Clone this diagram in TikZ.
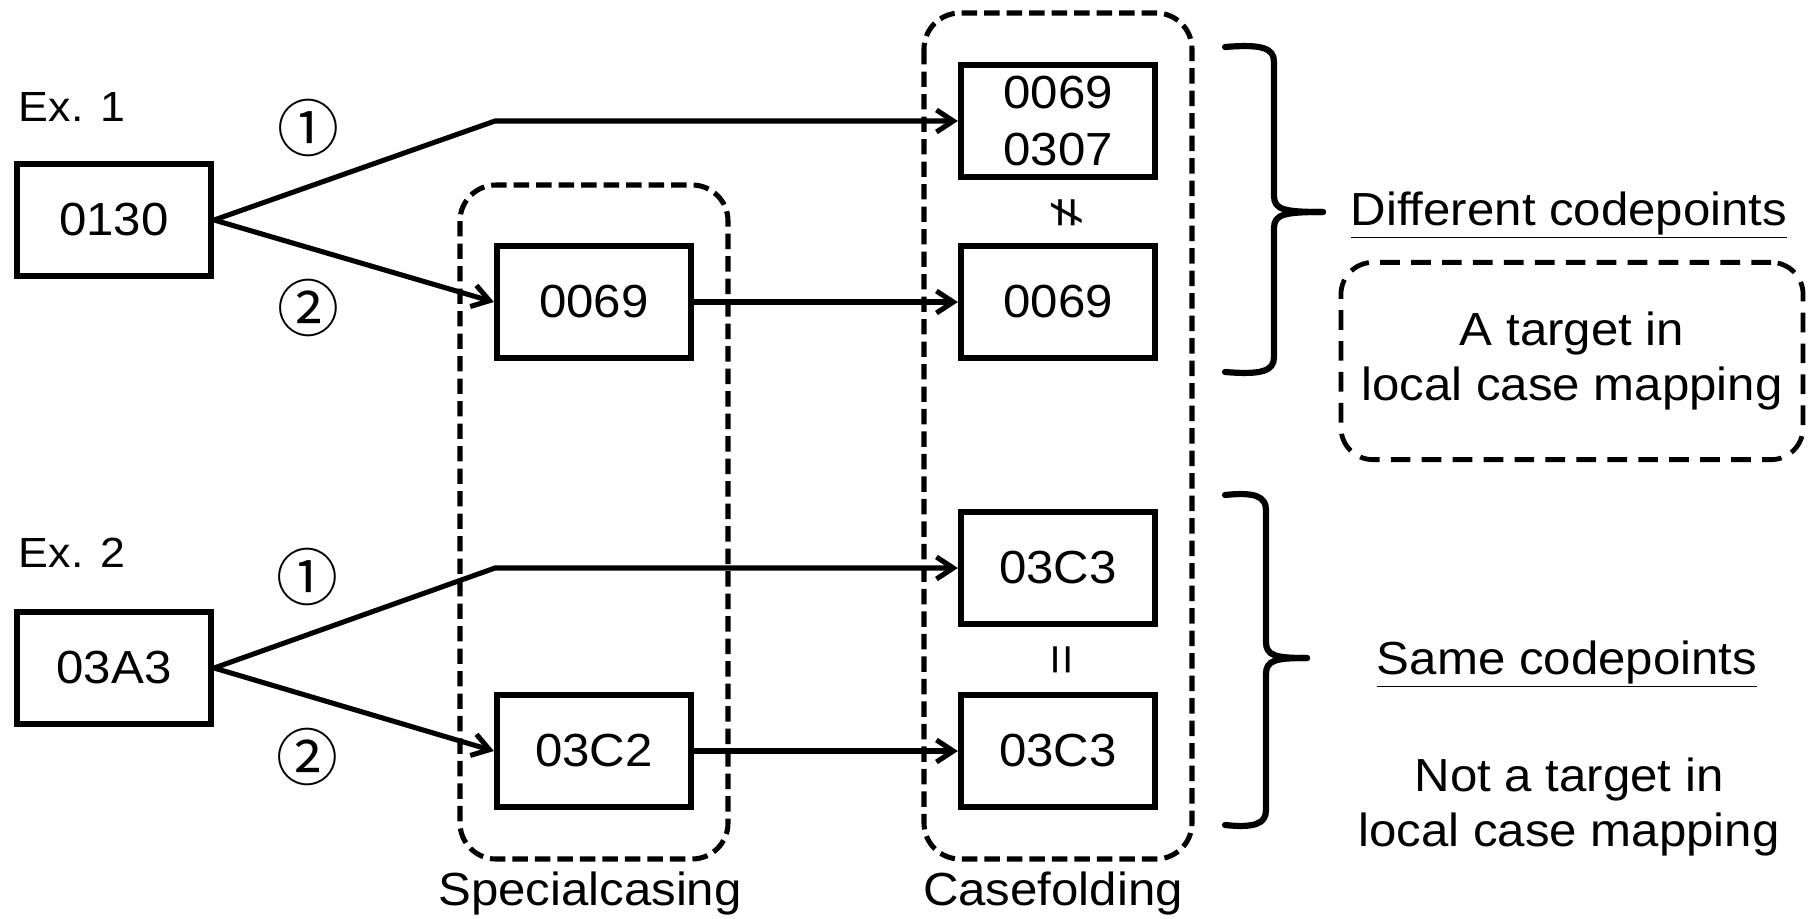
\documentclass[tikz,border=0pt]{standalone}
\usepackage{fontspec}
\setmainfont[FakeStretch=1.06]{Liberation Sans}
\newfontfamily\circfont{Noto Sans CJK JP}
\usetikzlibrary{arrows.meta}

\tikzset{
  cpbox/.style={draw,line width=4.4pt,minimum width=4.85cm,minimum height=2.8cm,
    inner sep=0pt,align=center,font=\fontsize{33}{41}\selectfont},
  group/.style={draw,line width=3.6pt,dash pattern=on 11pt off 5pt,rounded corners=0.9cm},
  link/.style={line width=3.6pt,-{Straight Barb[length=0.42cm,width=0.55cm,line width=3.6pt]}},
  brace/.style={line width=4.4pt,line cap=round},
  txt/.style={inner sep=0pt,align=center,font=\fontsize{33}{39}\selectfont},
  circ/.style={inner sep=0pt,font=\circfont\fontsize{44}{44}\selectfont},
  rel/.style={inner sep=0pt,rotate=90,font=\fontsize{36}{36}\selectfont}
}

\begin{document}
\begin{tikzpicture}[x=0.025cm,y=-0.025cm]
  \useasboundingbox (0,0) rectangle (1813,919);

  % dashed groups
  \draw[group] (460,185) rectangle (728,859);
  \draw[group] (924,13) rectangle (1192,859);
  \node[txt] (scname) at (590,893) {Specialcasing};
  \node[txt] (cfname) at (1053,893) {Casefolding};

  \begin{scope}[every node/.style={cpbox}]
    \node (src1) at (114,220)  {0130};
    \node (sc1)  at (594,302)  {0069};
    \node (cf1)  at (1058,121) {0069\\0307};
    \node (cf2)  at (1058,302) {0069};
    \node (src2) at (114,668)  {03A3};
    \node (sc2)  at (594,751)  {03C2};
    \node (cf3)  at (1058,568) {03C3};
    \node (cf4)  at (1058,751) {03C3};
  \end{scope}

  \node[txt,font=\fontsize{30}{30}\selectfont] (ex1) at (72,107) {Ex. 1};
  \node[txt,font=\fontsize{30}{30}\selectfont] (ex2) at (72,553) {Ex. 2};
  \node[circ] (one1) at (308,128) {①};
  \node[circ] (two1) at (308,308) {②};
  \node[circ] (one2) at (307,577) {①};
  \node[circ] (two2) at (307,757) {②};
  \node[rel] (neq) at (1067,213) {≠};
  \node[rel] (eq)  at (1066,660) {=};

  \coordinate (k1) at (495,121);
  \coordinate (k2) at (495,568);

  \draw[link] (src1.east) -- (k1) -- (cf1.west);
  \draw[link] (src1.east) -- (sc1.west);
  \draw[link] (sc1.east) -- (cf2.west);
  \draw[link] (src2.east) -- (k2) -- (cf3.west);
  \draw[link] (src2.east) -- (sc2.west);
  \draw[link] (sc2.east) -- (cf4.west);

  % braces
  \draw[brace] (1225,47) .. controls (1262,44) and (1274,48) .. (1274,62) -- (1274,196)
    .. controls (1274,210) and (1285,212) .. (1323,212);
  \draw[brace] (1225,372) .. controls (1262,375) and (1274,371) .. (1274,357) -- (1274,228)
    .. controls (1274,214) and (1285,212) .. (1323,212);
  \draw[brace] (1225,495) .. controls (1254,492) and (1266,496) .. (1266,510) -- (1266,642)
    .. controls (1266,656) and (1276,658) .. (1307,658);
  \draw[brace] (1225,825) .. controls (1254,828) and (1266,824) .. (1266,810) -- (1266,674)
    .. controls (1266,660) and (1276,658) .. (1307,658);

  \node[txt] (diff) at (1569,215) {\underline{Different codepoints}};
  \node[txt,draw,line width=3.4pt,dash pattern=on 14pt off 8pt,rounded corners=0.8cm,
    minimum width=11.55cm,minimum height=4.93cm] (tgt) at (1572,361)
    {A target in\\local case mapping};
  \node[txt] (same) at (1567,664) {\underline{Same codepoints}};
  \node[txt] (ntgt) at (1569,807) {Not a target in\\local case mapping};
\end{tikzpicture}
\end{document}
